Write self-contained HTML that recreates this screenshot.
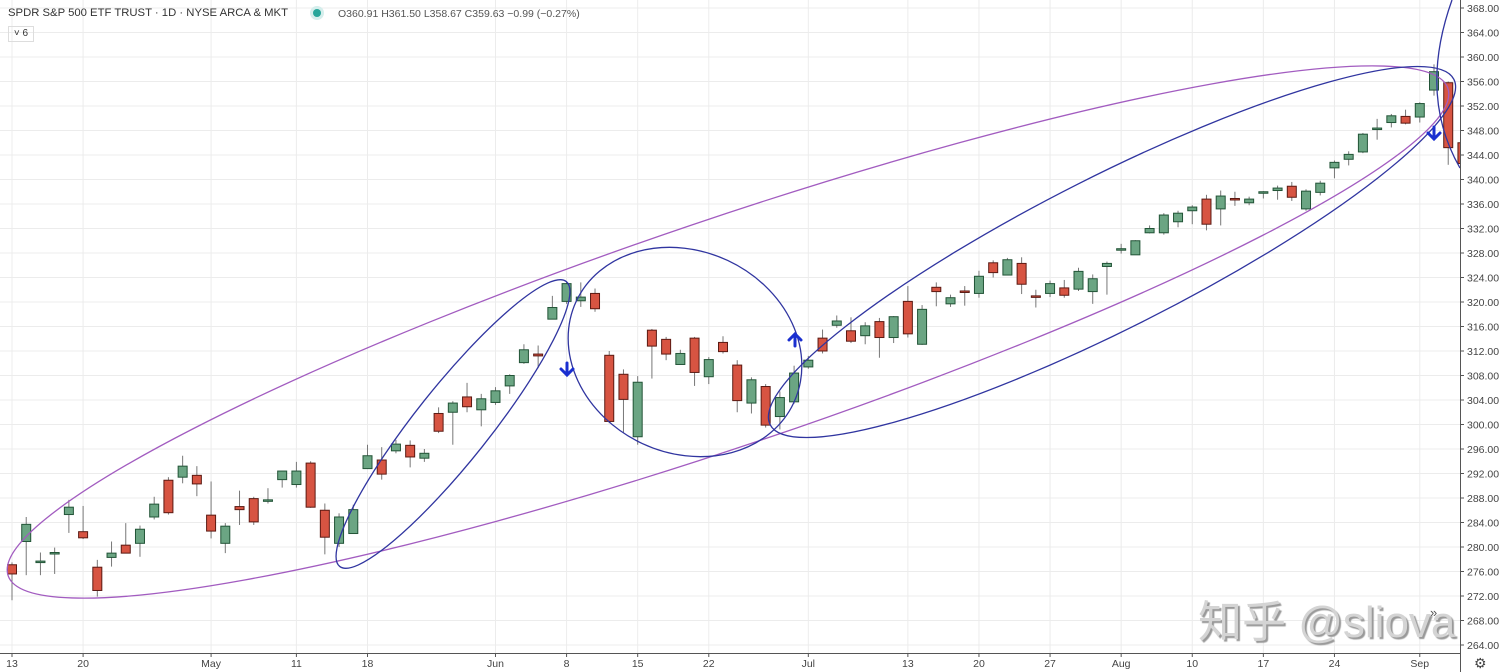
<!DOCTYPE html>
<html><head><meta charset="utf-8"><style>
html,body{margin:0;padding:0;background:#fff;font-family:"Liberation Sans",sans-serif;}
#wrap{position:relative;width:1500px;height:672px;overflow:hidden;font-family:"Liberation Sans",sans-serif;}
svg{position:absolute;left:0;top:0;font-family:"Liberation Sans",sans-serif;}
</style></head><body>
<div id="wrap">
<svg id="chart" width="1500" height="672"></svg>
</div>
<script>
const opens=[277.1,280.9,277.5,279.0,285.3,282.5,276.7,278.3,280.3,280.6,284.9,290.9,291.4,291.7,285.2,280.6,286.6,287.9,287.6,291.0,290.2,293.7,286.0,280.6,282.2,292.8,294.2,295.7,296.6,294.5,301.8,302.0,304.5,302.4,303.6,306.3,310.1,311.5,317.2,320.1,320.2,321.4,311.3,308.2,298.0,315.4,313.9,309.8,314.1,307.8,313.4,309.7,303.5,306.2,301.3,303.7,309.4,314.1,316.2,315.3,314.5,316.8,314.2,320.1,313.1,322.4,319.7,321.8,321.4,326.4,324.4,326.3,321.0,321.4,322.3,322.1,321.7,325.8,328.5,327.7,331.3,331.3,333.1,334.9,336.8,335.2,336.9,336.2,337.9,338.2,338.9,335.2,337.9,341.9,343.3,344.5,348.3,349.3,350.3,350.2,354.6,355.8,346.0];
const closes=[275.6,283.7,277.7,279.1,286.5,281.5,272.9,279.0,279.0,282.9,287.0,285.6,293.2,290.3,282.6,283.4,286.1,284.1,287.7,292.4,292.4,286.5,281.6,284.9,286.1,294.9,291.9,296.8,294.7,295.3,298.9,303.5,302.9,304.2,305.5,308.0,312.2,311.2,319.1,323.0,320.8,318.9,300.5,304.1,306.9,312.8,311.5,311.6,308.5,310.6,311.9,303.9,307.3,299.9,304.4,308.4,310.5,312.0,316.9,313.6,316.1,314.2,317.6,314.8,318.8,321.7,320.7,321.7,324.2,324.8,326.9,322.9,320.9,323.0,321.1,325.0,323.8,326.3,328.7,330.0,332.0,334.2,334.5,335.5,332.7,337.3,336.7,336.8,338.0,338.6,337.1,338.1,339.4,342.8,344.1,347.4,348.4,350.4,349.2,352.4,357.6,345.2,342.6];
const highs=[277.5,284.9,279.1,279.9,287.7,286.7,277.9,280.9,283.9,283.5,288.2,291.4,294.9,293.2,290.7,283.9,289.2,288.2,289.6,291.6,293.9,294.0,287.1,285.5,286.9,296.7,296.3,297.5,297.4,296.0,302.8,303.8,306.8,305.0,306.1,308.2,313.1,312.9,321.0,323.2,323.2,322.2,312.0,309.0,307.9,315.6,314.3,312.2,314.3,311.0,314.4,310.5,307.7,306.6,305.4,309.6,311.2,315.5,317.8,317.5,316.7,317.4,317.7,322.6,319.5,323.2,321.2,322.6,325.1,326.8,327.2,327.3,322.0,323.5,323.6,325.6,324.5,326.6,329.5,330.1,332.5,334.5,334.9,335.8,337.5,338.2,338.0,337.2,338.1,339.0,339.6,338.4,339.8,343.1,344.6,347.6,349.9,350.7,351.4,352.6,358.8,356.0,346.5];
const lows=[271.3,275.4,275.4,275.6,282.3,281.3,271.9,276.8,279.0,278.4,284.5,285.3,290.4,288.3,281.4,279.0,283.6,283.6,287.1,289.7,289.7,286.4,278.8,280.0,282.3,294.0,291.0,295.3,293.0,293.9,298.6,296.7,302.0,299.7,303.2,305.0,309.9,309.2,318.5,319.7,319.2,318.4,300.2,298.6,296.7,307.5,310.5,310.1,306.3,306.6,311.6,302.0,301.8,299.5,299.2,303.4,309.1,311.6,315.8,313.3,313.1,310.9,313.3,314.2,313.0,319.3,319.2,319.4,320.7,324.0,324.4,321.3,319.1,320.8,320.7,321.8,319.7,321.2,327.9,327.7,331.2,331.0,332.2,332.7,331.7,332.5,335.7,335.8,336.9,336.7,336.5,334.9,337.4,340.2,342.3,344.3,346.5,348.5,349.0,349.3,353.7,342.4,342.5];
const priceTicks=[264,268,272,276,280,284,288,292,296,300,304,308,312,316,320,324,328,332,336,340,344,348,352,356,360,364,368];
const dateLabels=["13","20","May","11","18","Jun","8","15","22","Jul","13","20","27","Aug","10","17","24","Sep"];
const dateIndex=[0,5,14,20,25,34,39,44,49,56,63,68,73,78,83,88,93,99];

const NS="http://www.w3.org/2000/svg";
const svg=document.getElementById('chart');
const PLOT_R=1460, PLOT_B=653;
function X(i){return 12+i*14.22;}
function Y(p){return 8+(368-p)*6.125;}
function mk(tag,attrs,parent){const e=document.createElementNS(NS,tag);for(const k in attrs)e.setAttribute(k,attrs[k]);(parent||svg).appendChild(e);return e;}

const grid=mk('g',{});


priceTicks.forEach(p=>{mk('line',{x1:0,x2:PLOT_R,y1:Y(p),y2:Y(p),stroke:'#ececec','stroke-width':1},grid);});
dateIndex.forEach(i=>{mk('line',{x1:X(i),x2:X(i),y1:0,y2:PLOT_B,stroke:'#ececec','stroke-width':1},grid);});

const defs=mk('defs',{});
const cp=mk('clipPath',{id:'plotclip'},defs);
mk('rect',{x:0,y:0,width:PLOT_R,height:PLOT_B},cp);

const candles=mk('g',{'clip-path':'url(#plotclip)'});


for(let i=0;i<opens.length;i++){
  const up=closes[i]>=opens[i];
  const g=mk('g',{},candles);
  
  
  const x=X(i);
  mk('line',{x1:x,x2:x,y1:Y(highs[i]),y2:Y(lows[i]),stroke:'#777','stroke-width':1},g);
  const top=Y(Math.max(opens[i],closes[i])), bot=Y(Math.min(opens[i],closes[i]));
  const h=Math.max(bot-top,1.5);
  mk('rect',{x:x-4.5,y:top,width:9,height:h,fill:up?'#6ba583':'#d75442',stroke:up?'#225437':'#5b1a13','stroke-width':1},g);
}

const dr=mk('g',{'clip-path':'url(#plotclip)',fill:'none'});


let e;
e=mk('ellipse',{cx:728,cy:332,rx:760,ry:113,transform:'rotate(-18.7 728 332)',stroke:'#a25cc0','stroke-width':1.3},dr);

e=mk('ellipse',{cx:453,cy:424,rx:182,ry:37,transform:'rotate(-51.5 453 424)',stroke:'#3035a0','stroke-width':1.3},dr);

e=mk('ellipse',{cx:685,cy:352,rx:120,ry:101,transform:'rotate(25 685 352)',stroke:'#3035a0','stroke-width':1.3},dr);

e=mk('ellipse',{cx:1112,cy:252,rx:383,ry:76,transform:'rotate(-26.8 1112 252)',stroke:'#3035a0','stroke-width':1.3},dr);

e=mk('path',{d:'M1452,0 Q1418,95 1460,168',stroke:'#3035a0','stroke-width':1.3},dr);

function arrow(x,y,down){
  const g=mk('g',{fill:'#1a2fd0',stroke:'#1a2fd0','stroke-width':3,'stroke-linecap':'round'},svg);
  
  
  const s=down?1:-1;
  mk('line',{x1:x,x2:x,y1:y-6*s,y2:y+5*s},g);
  mk('polyline',{points:`${x-6},${y} ${x},${y+6*s} ${x+6},${y}`,fill:'none'},g);
}
arrow(567,369,true);
arrow(795,340,false);
arrow(1434,133,true);

const ax=mk('g',{});


mk('line',{x1:PLOT_R+0.5,x2:PLOT_R+0.5,y1:0,y2:672,stroke:'#555','stroke-width':1},ax);
priceTicks.forEach(p=>{
  mk('line',{x1:PLOT_R,x2:PLOT_R+4,y1:Y(p),y2:Y(p),stroke:'#555'},ax);
  const t=mk('text',{x:PLOT_R+7,y:Y(p)+4,'font-size':10.5,fill:'#444'},ax);
  t.textContent=p.toFixed(2);
});
const tx=mk('g',{});


mk('line',{x1:0,x2:PLOT_R,y1:PLOT_B+0.5,y2:PLOT_B+0.5,stroke:'#555'},tx);
dateIndex.forEach((i,k)=>{
  mk('line',{x1:X(i),x2:X(i),y1:PLOT_B,y2:PLOT_B+4,stroke:'#555'},tx);
  const t=mk('text',{x:X(i),y:667,'font-size':10.5,fill:'#444','text-anchor':'middle'},tx);
  t.textContent=dateLabels[k];
});
</script>
<div style="position:absolute;left:8px;top:7px;font-size:11.3px;color:#333;white-space:nowrap;">SPDR S&amp;P 500 ETF TRUST · 1D · NYSE ARCA &amp; MKT</div>
<div style="position:absolute;left:313px;top:9px;width:8px;height:8px;border-radius:50%;background:#26a69a;box-shadow:0 0 0 3px #d5eeec;"></div>
<div style="position:absolute;left:338px;top:8px;font-size:10.5px;color:#555;white-space:nowrap;">O360.91 H361.50 L358.67 C359.63 −0.99 (−0.27%)</div>
<div style="position:absolute;left:8px;top:26px;width:24px;height:14px;border:1px solid #ddd;font-size:10px;color:#333;line-height:14px;text-align:center;">˅ 6</div>
<div style="position:absolute;left:1198px;top:586px;font-family:'Liberation Sans','Noto Sans CJK SC',sans-serif;font-size:44px;color:#d4d4d4;text-shadow:2px 2px 1px #999;white-space:nowrap;">知乎 @sliova</div>
<div style="position:absolute;left:1430px;top:605px;font-size:13px;color:#555;">»</div>
<div style="position:absolute;left:1474px;top:655px;font-size:14px;color:#444;">⚙</div>
</body></html>
